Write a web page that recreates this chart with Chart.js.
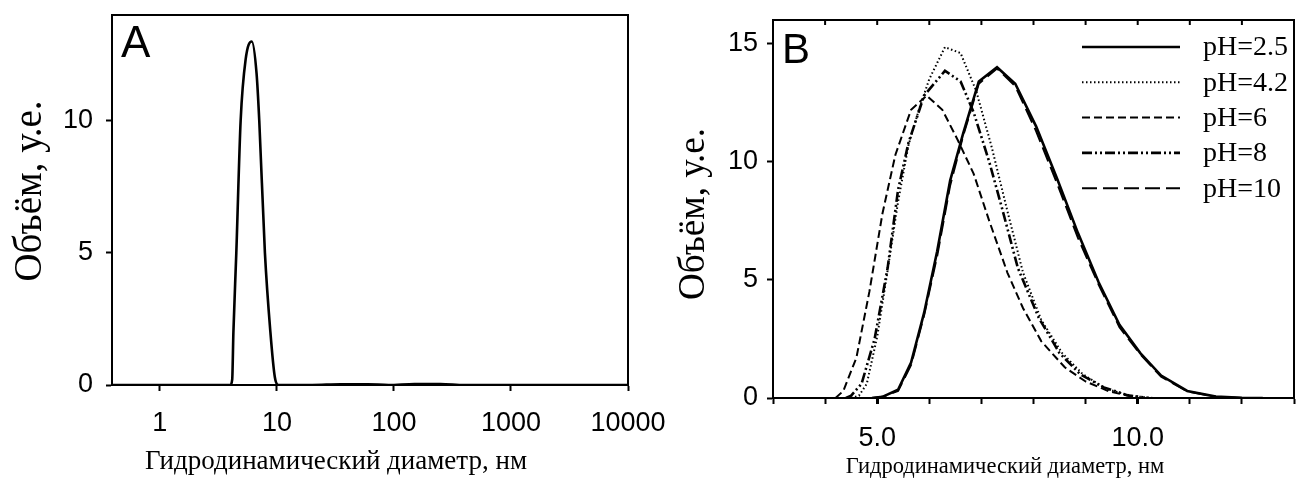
<!DOCTYPE html>
<html><head><meta charset="utf-8">
<script src="https://cdn.jsdelivr.net/npm/chart.js@4.4.0/dist/chart.umd.min.js"></script>
<style>
html,body{margin:0;padding:0;background:#fff;overflow:hidden;}
#wa{position:absolute;left:0;top:0;width:700px;height:481px;}
#wb{position:absolute;left:660px;top:0;width:638px;height:481px;}
</style></head><body>
<div id="wa"><canvas id="ca" width="700" height="481"></canvas></div>
<div id="wb"><canvas id="cb" width="638" height="481"></canvas></div>
<script>
// ---- Panel A data ----
const diamA = [0.39, 1, 2, 3, 4.0, 4.15, 4.25, 4.5, 4.9, 5.4, 6.1, 6.7, 7.07, 7.9, 8.8, 9.6, 10.3, 20, 35, 60, 90, 150, 250, 400, 1000, 10000];
const volA  = [0, 0, 0, 0, 0, 0.2, 2, 5, 10, 12.3, 13, 11.8, 10, 5, 2, 0.3, 0, 0, 0.03, 0.03, 0, 0.04, 0.04, 0, 0, 0];
const tickLabelsAx = [1, 10, 100, 1000, 10000];
const tickLabelsAy = [0, 5, 10];

// ---- Panel B data ----
const seriesNames = ['pH=2.5', 'pH=4.2', 'pH=6', 'pH=8', 'pH=10'];
const diam25 = [4.9, 5.1, 5.4, 5.65, 5.9, 6.15, 6.4, 6.65, 6.95, 7.3, 7.65, 8.05, 8.45, 8.85, 9.25, 9.65, 10.05, 10.45, 10.95, 11.5, 12.0, 12.4];
const vol25  = [0, 0.05, 0.35, 1.5, 3.6, 6.2, 9.2, 11.2, 13.4, 14.0, 13.3, 11.5, 9.3, 7.0, 4.9, 3.1, 1.9, 0.95, 0.3, 0.06, 0.01, 0];
const diam42 = [4.5, 4.65, 4.8, 5.0, 5.2, 5.4, 5.6, 5.8, 6.0, 6.3, 6.6, 6.9, 7.2, 7.5, 7.8, 8.15, 8.55, 8.95, 9.4, 9.9, 10.3];
const vol42  = [0, 0.1, 0.6, 2.6, 5.4, 8.3, 10.7, 12.2, 13.5, 14.85, 14.6, 13.0, 10.6, 7.9, 5.3, 3.3, 1.9, 1.0, 0.38, 0.08, 0];
const diam6  = [4.2, 4.35, 4.6, 4.85, 5.1, 5.35, 5.65, 5.95, 6.25, 6.55, 6.85, 7.15, 7.5, 7.8, 8.15, 8.6, 9.0, 9.45, 9.95];
const vol6   = [0, 0.3, 1.7, 4.5, 7.8, 10.3, 12.2, 12.8, 12.2, 10.9, 9.5, 7.5, 5.3, 3.8, 2.4, 1.3, 0.7, 0.28, 0.03];
const diam8  = [4.4, 4.5, 4.7, 4.95, 5.2, 5.4, 5.6, 5.9, 6.3, 6.6, 6.85, 7.15, 7.4, 7.7, 8.1, 8.5, 8.9, 9.35, 9.8, 10.2];
const vol8   = [0, 0.1, 0.6, 2.5, 5.5, 8.8, 10.8, 12.8, 13.85, 13.4, 12.1, 10.0, 8.0, 5.5, 3.4, 1.9, 1.0, 0.45, 0.12, 0];
const diam10 = [4.9, 5.1, 5.4, 5.65, 5.9, 6.15, 6.4, 6.65, 6.95, 7.3, 7.65, 8.05, 8.45, 8.85, 9.25, 9.65, 10.05, 10.45, 10.95, 11.5, 12.0];
const vol10  = [0, 0.05, 0.3, 1.4, 3.5, 6.0, 9.0, 11.1, 13.3, 13.95, 13.2, 11.3, 9.1, 6.8, 4.8, 3.0, 1.85, 0.9, 0.28, 0.05, 0];
const tickLabelsBx = [5, 10];
const tickLabelsBy = [0, 5, 10, 15];

const xTitle = 'Гидродинамический диаметр, нм';
const yTitle = 'Объём, у.е.';

const pts = (xs, ys) => xs.map((x, i) => ({x: x, y: ys[i]}));
const SANS = "'Liberation Sans', Arial, sans-serif";
const SERIF = "'Liberation Serif', 'Times New Roman', serif";
const noPad = s => { s.paddingLeft = 0; s.paddingRight = 0; s.paddingTop = 0; s.paddingBottom = 0; };

const framePlugin = {
  id: 'frame',
  afterDraw(chart, args, o) {
    const ctx = chart.ctx, a = chart.chartArea;
    ctx.save();
    ctx.strokeStyle = '#000';
    ctx.lineWidth = 2;
    ctx.setLineDash([]);
    ctx.beginPath();
    ctx.moveTo(a.left, a.top); ctx.lineTo(a.right, a.top); ctx.lineTo(a.right, a.bottom);
    ctx.stroke();
    if (o.topTicks) {
      const s = chart.scales.x;
      s.ticks.forEach(t => {
        if (t.value <= s.min || t.value >= s.max) return;
        const px = s.getPixelForValue(t.value);
        ctx.beginPath(); ctx.moveTo(px, a.top); ctx.lineTo(px, a.top + 5); ctx.stroke();
      });
    }
    ctx.fillStyle = '#000';
    ctx.font = o.letterFont;
    ctx.textBaseline = 'alphabetic';
    ctx.textAlign = 'left';
    ctx.fillText(o.letter, a.left + o.lx, a.top + o.ly);
    (o.titles || []).forEach(t => {
      ctx.save();
      ctx.translate(t.x, t.y);
      if (t.rot) ctx.rotate(t.rot);
      ctx.font = t.font;
      ctx.textAlign = 'center';
      ctx.textBaseline = 'middle';
      ctx.fillText(t.text, 0, 0);
      ctx.restore();
    });
    if (o.legend) {
      const L = o.legend;
      ctx.textAlign = 'left';
      chart.data.datasets.forEach((ds, i) => {
        const y = L.y0 + i * L.dy;
        ctx.strokeStyle = '#000';
        ctx.lineWidth = ds.borderWidth;
        ctx.setLineDash(ds.borderDash || []);
        ctx.beginPath(); ctx.moveTo(L.x0, y); ctx.lineTo(L.x1, y); ctx.stroke();
        ctx.setLineDash([]);
        ctx.font = L.font;
        ctx.textBaseline = 'middle';
        ctx.fillText(ds.label, L.tx, y + 1);
      });
    }
    ctx.restore();
  }
};

// ---------- Chart A ----------
new Chart(document.getElementById('ca'), {
  type: 'line',
  data: {
    datasets: [{
      label: 'A',
      data: pts(diamA, volA),
      borderColor: '#000',
      borderWidth: 2.6,
      pointRadius: 0,
      cubicInterpolationMode: 'monotone',
      fill: false
    }]
  },
  options: {
    responsive: false,
    devicePixelRatio: 1,
    animation: false,
    layout: {padding: {left: 0, top: 15, right: 72, bottom: 0}},
    plugins: {
      legend: {display: false}, tooltip: {enabled: false},
      frame: {letter: 'A', letterFont: '44px ' + SANS, lx: 9, ly: 42,
              titles: [
                {text: xTitle, x: 336, y: 462, font: '27px ' + SERIF},
                {text: yTitle, x: 31, y: 191, rot: -Math.PI / 2, font: '39px ' + SERIF}
              ]}
    },
    scales: {
      x: {
        type: 'logarithmic', min: 0.39, max: 10000,
        afterBuildTicks: s => { s.ticks = tickLabelsAx.map(v => ({value: v})); },
        afterFit: s => { s.height = 96; noPad(s); },
        border: {color: '#000', width: 2},
        grid: {drawOnChartArea: false, drawTicks: true, tickLength: 6, tickWidth: 2, tickColor: '#000'},
        ticks: {color: '#000', font: {family: SANS, size: 27}, padding: 16, maxRotation: 0, autoSkip: false,
                callback: v => String(v)}
      },
      y: {
        min: 0, max: 14,
        afterBuildTicks: s => { s.ticks = tickLabelsAy.map(v => ({value: v})); },
        afterFit: s => { s.width = 112; noPad(s); },
        border: {color: '#000', width: 2},
        grid: {drawOnChartArea: false, drawTicks: true, tickLength: 6, tickWidth: 2, tickColor: '#000'},
        ticks: {color: '#000', font: {family: SANS, size: 27}, padding: 13, callback: v => String(v)}
      }
    }
  },
  plugins: [framePlugin]
});

// ---------- Chart B ----------
const styleB = [
  {dash: [], w: 2.6},
  {dash: [1.5, 2.5], w: 2},
  {dash: [8, 4], w: 2},
  {dash: [10, 3, 2, 3, 2, 3], w: 2.6},
  {dash: [15, 6], w: 2}
];
const dataB = [pts(diam25, vol25), pts(diam42, vol42), pts(diam6, vol6), pts(diam8, vol8), pts(diam10, vol10)];

new Chart(document.getElementById('cb'), {
  type: 'line',
  data: {
    datasets: seriesNames.map((n, i) => ({
      label: n,
      data: dataB[i],
      borderColor: '#000',
      borderWidth: styleB[i].w,
      borderDash: styleB[i].dash,
      pointRadius: 0,
      tension: 0,
      fill: false
    }))
  },
  options: {
    responsive: false,
    devicePixelRatio: 1,
    animation: false,
    layout: {padding: {left: 0, top: 20, right: 4, bottom: 0}},
    plugins: {
      legend: {display: false}, tooltip: {enabled: false},
      frame: {letter: 'B', letterFont: '42px ' + SANS, lx: 9, ly: 43, topTicks: true,
              legend: {x0: 422, x1: 520, tx: 543, y0: 47, dy: 35.3, font: '28px ' + SERIF},
              titles: [
                {text: xTitle, x: 345, y: 467, font: '22.5px ' + SERIF},
                {text: yTitle, x: 34, y: 214, rot: -Math.PI / 2, font: '37px ' + SERIF}
              ]}
    },
    scales: {
      x: {
        type: 'linear', min: 3, max: 13,
        ticks: {stepSize: 1, color: '#000', font: {family: SANS, size: 27}, padding: 18, maxRotation: 0, autoSkip: false,
                callback: v => tickLabelsBx.includes(v) ? v.toFixed(1) : ''},
        afterFit: s => { s.height = 83; noPad(s); },
        border: {color: '#000', width: 2},
        grid: {drawOnChartArea: false, drawTicks: true, tickLength: 6, tickColor: '#000',
               tickWidth: c => (c.tick && tickLabelsBx.includes(c.tick.value)) ? 3 : 2}
      },
      y: {
        min: 0, max: 16,
        afterBuildTicks: s => { s.ticks = tickLabelsBy.map(v => ({value: v})); },
        afterFit: s => { s.width = 113; noPad(s); },
        border: {color: '#000', width: 2},
        grid: {drawOnChartArea: false, drawTicks: true, tickLength: 6, tickWidth: 2, tickColor: '#000'},
        ticks: {color: '#000', font: {family: SANS, size: 27}, padding: 9, callback: v => String(v)}
      }
    }
  },
  plugins: [framePlugin]
});
</script>
</body></html>
